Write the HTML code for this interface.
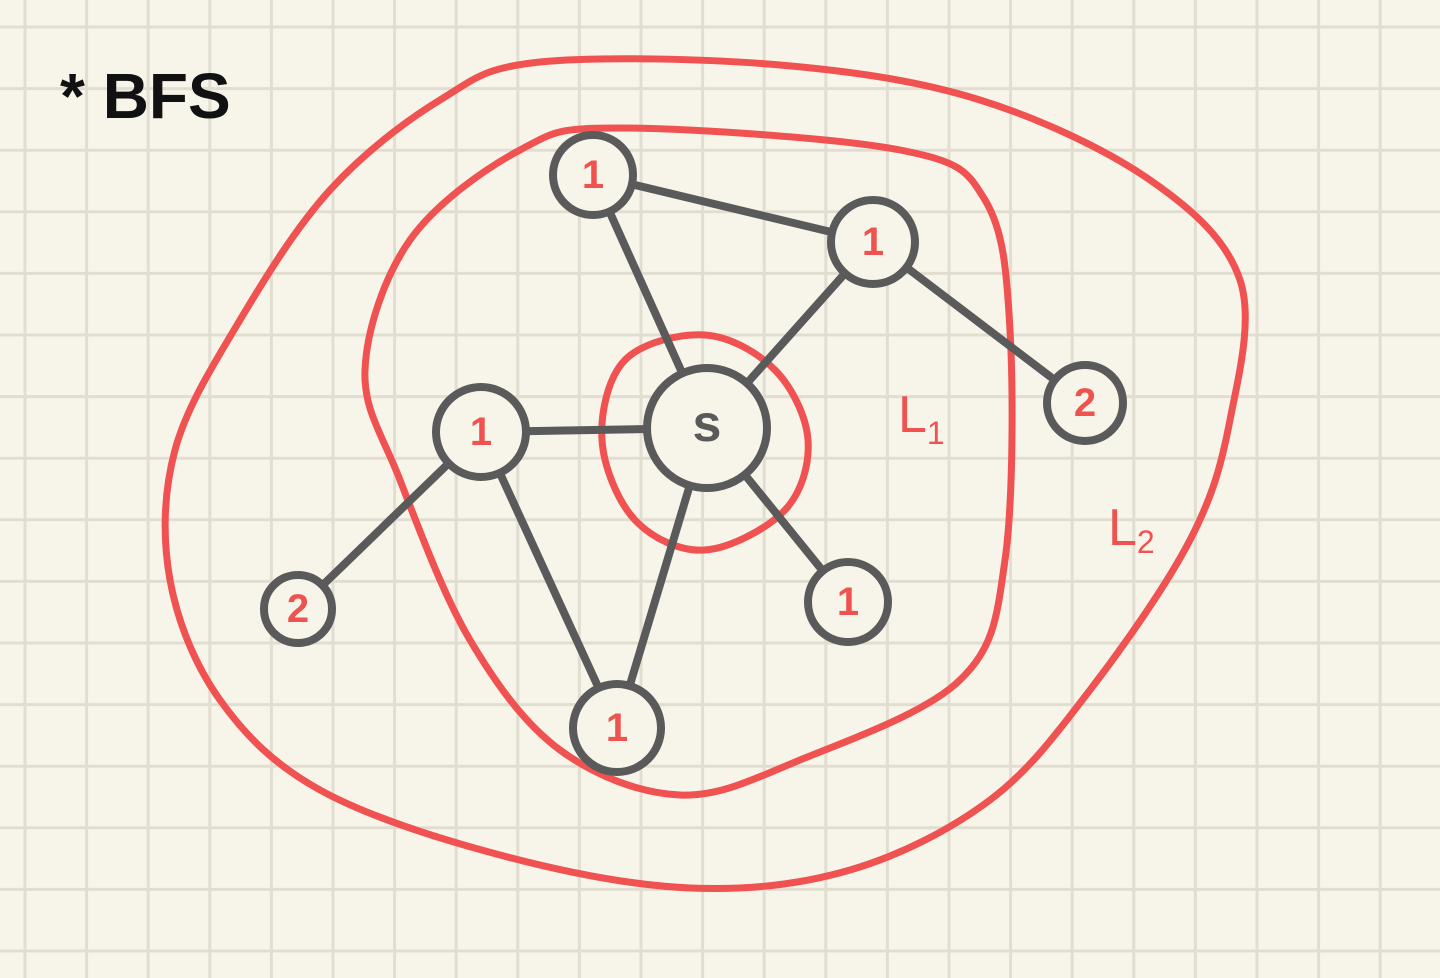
<!DOCTYPE html>
<html><head><meta charset="utf-8"><style>
html,body{margin:0;padding:0;background:#f7f5ea;}
svg{display:block}
</style></head><body>
<svg id="chart" width="1440" height="978" viewBox="0 0 1440 978" xmlns="http://www.w3.org/2000/svg">
<rect width="1440" height="978" fill="#f7f5ea"/>
<g id="grid"></g>
<text x="60" y="118" font-family="Liberation Sans, sans-serif" font-weight="bold" font-size="64" fill="#111">* BFS</text>
<g id="loops"></g>
<g id="edges"></g>
<g id="nodes"></g>
<text x="898" y="432" font-family="Liberation Sans, sans-serif" font-size="52" fill="#ef5350">L<tspan font-size="32" dy="12">1</tspan></text>
<text x="1108" y="545" font-family="Liberation Sans, sans-serif" font-size="52" fill="#ef5350">L<tspan font-size="32" dy="8">2</tspan></text>
</svg>
<script>
const nodeX=[593,873,481,707,1085,298,848,617];
const nodeY=[175,242,432,428,403,609,602,728];
const nodeR=[40,42,45,60,38,34,40,44];
const nodeLabels=["1","1","1","s","2","2","1","1"];
const edgeFrom=[3,3,3,3,3,0,1,2,2];
const edgeTo=[0,1,2,7,6,1,4,5,7];
const loopInner=[[705,335],[775,370],[808,440],[785,510],[705,550],[635,520],[602,440],[625,360]];
const loopMiddle=[[620,128],[900,150],[985,200],[1010,330],[1005,560],[960,680],[800,760],[680,795],[560,750],[470,640],[400,480],[365,370],[410,240],[520,150]];
const loopOuter=[[540,62],[780,65],[980,100],[1150,180],[1240,280],[1230,420],[1190,540],[1090,690],[990,800],[850,870],[690,888],[500,855],[320,790],[220,700],[170,580],[175,450],[240,320],[330,190],[440,100]];
const NS="http://www.w3.org/2000/svg";
const grid=document.getElementById('grid');
for(let x=25;x<1440;x+=61.6){const l=document.createElementNS(NS,'line');l.setAttribute('x1',x);l.setAttribute('x2',x);l.setAttribute('y1',0);l.setAttribute('y2',978);l.setAttribute('stroke','#e1ded1');l.setAttribute('stroke-width','3');


grid.appendChild(l);}
for(let y=27;y<978;y+=61.6){const l=document.createElementNS(NS,'line');l.setAttribute('y1',y);l.setAttribute('y2',y);l.setAttribute('x1',0);l.setAttribute('x2',1440);l.setAttribute('stroke','#e1ded1');l.setAttribute('stroke-width','3');


grid.appendChild(l);}
function smooth(p){const n=p.length;let d=`M${p[0][0]},${p[0][1]}`;for(let i=0;i<n;i++){const p0=p[(i-1+n)%n],p1=p[i],p2=p[(i+1)%n],p3=p[(i+2)%n];d+=` C${p1[0]+(p2[0]-p0[0])/6},${p1[1]+(p2[1]-p0[1])/6} ${p2[0]-(p3[0]-p1[0])/6},${p2[1]-(p3[1]-p1[1])/6} ${p2[0]},${p2[1]}`;}return d+'Z';}
const loops=document.getElementById('loops');
[[loopInner,'loop-l0'],[loopMiddle,'loop-l1'],[loopOuter,'loop-l2']].forEach(([pts,nm])=>{const p=document.createElementNS(NS,'path');p.setAttribute('d',smooth(pts));p.setAttribute('fill','none');p.setAttribute('stroke','#f05252');p.setAttribute('stroke-width','7');


loops.appendChild(p);});
const edges=document.getElementById('edges');
for(let i=0;i<edgeFrom.length;i++){const a=edgeFrom[i],b=edgeTo[i];const l=document.createElementNS(NS,'line');l.setAttribute('x1',nodeX[a]);l.setAttribute('y1',nodeY[a]);l.setAttribute('x2',nodeX[b]);l.setAttribute('y2',nodeY[b]);l.setAttribute('stroke','#5a5a5a');l.setAttribute('stroke-width','8');l.setAttribute('stroke-linecap','round');


edges.appendChild(l);}
const nodes=document.getElementById('nodes');
for(let i=0;i<nodeX.length;i++){const g=document.createElementNS(NS,'g');


const c=document.createElementNS(NS,'circle');c.setAttribute('cx',nodeX[i]);c.setAttribute('cy',nodeY[i]);c.setAttribute('r',nodeR[i]);c.setAttribute('fill','#f7f5ea');c.setAttribute('stroke','#5a5a5a');c.setAttribute('stroke-width','8');


g.appendChild(c);
const t=document.createElementNS(NS,'text');t.setAttribute('x',nodeX[i]);t.setAttribute('y',nodeY[i]+13);t.setAttribute('text-anchor','middle');t.setAttribute('font-family','Liberation Sans, sans-serif');t.setAttribute('font-weight','bold');t.setAttribute('font-size',nodeLabels[i]==='s'?'52':'40');t.setAttribute('fill',nodeLabels[i]==='s'?'#5a5a5a':'#ef5350');t.textContent=nodeLabels[i];


g.appendChild(t);nodes.appendChild(g);}
</script>
</body></html>
